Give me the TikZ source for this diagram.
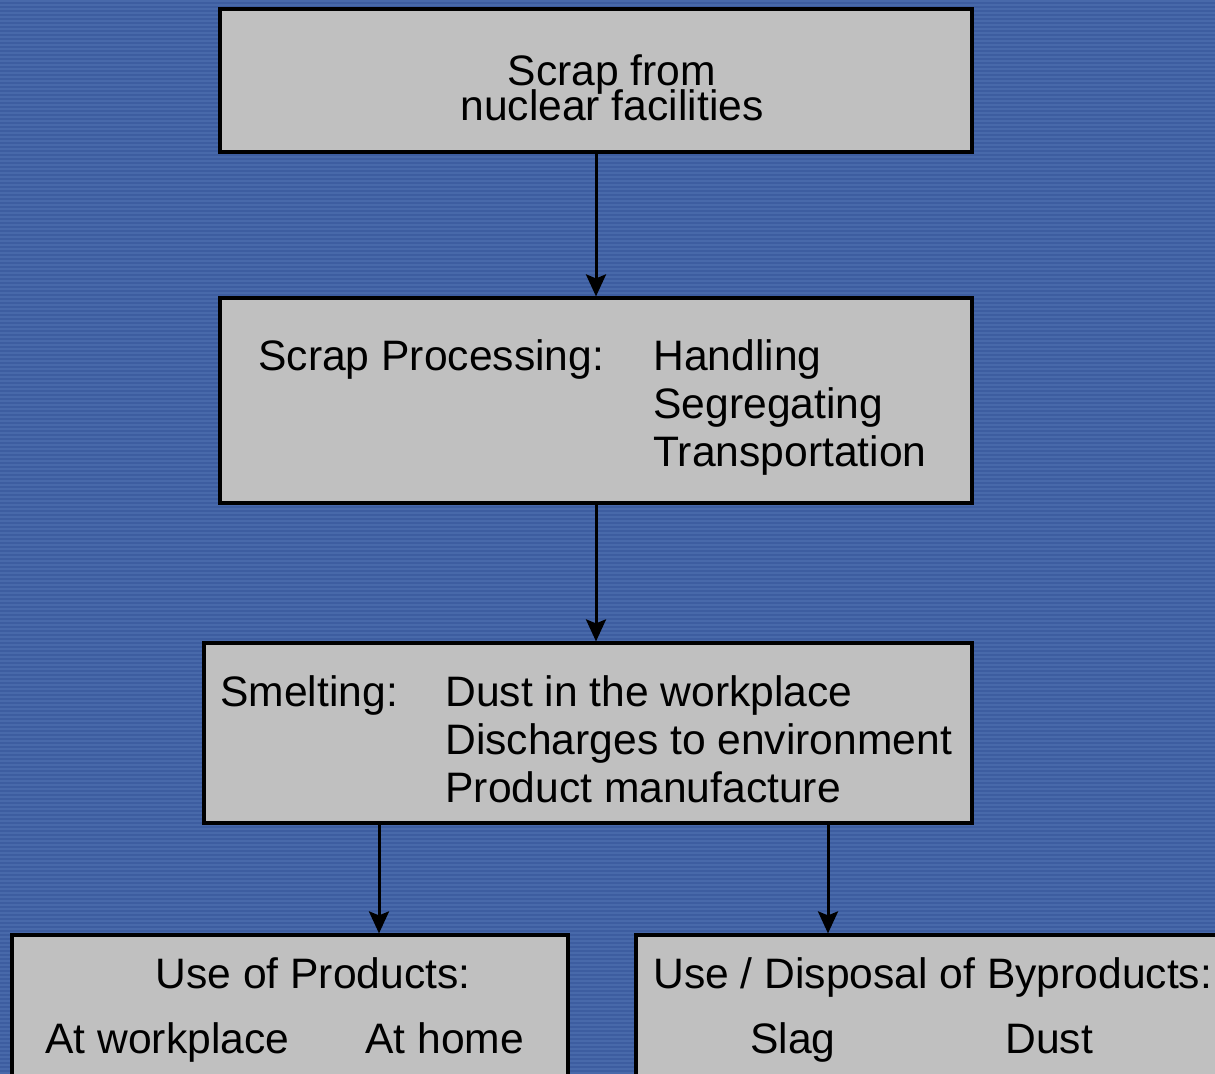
\documentclass[tikz,border=0pt]{standalone}
\usepackage{fontspec}
\setmainfont{Liberation Sans}
\usetikzlibrary{arrows.meta, positioning}
\definecolor{bgblue}{RGB}{61,93,160}
\definecolor{bgstripe}{RGB}{72,105,170}
\definecolor{boxgray}{RGB}{192,192,192}
\tikzset{
    block/.style={rectangle, draw=black, line width=1.6pt, fill=boxgray, inner sep=0pt},
    txt/.style={inner sep=0pt, font=\fontsize{21.3pt}{24pt}\selectfont},
    arrow/.style={line width=1.5pt, -{Stealth[length=11pt, width=10pt, inset=2pt]}}
}
\begin{document}
\begin{tikzpicture}[x=0.5pt, y=-0.5pt]

% Background
\useasboundingbox (0,0) rectangle (1215,1073);
\clip (0,0) rectangle (1215,1073);
\fill[bgblue] (0,0) rectangle (1215,1073);
\foreach \y in {1,5,...,1073}
    \draw[bgstripe, line width=0.8pt] (0,\y) -- (1215,\y);

% Define Blocks
\node[block, minimum width=376pt, minimum height=71.5pt] (scrap) at (596,80.5) {};
\node[block, minimum width=376pt, minimum height=102.5pt] (processing) at (596,400.5) {};
\node[block, minimum width=384pt, minimum height=90pt] (smelting) at (588,733) {};
\node[block, minimum width=278pt, minimum height=82.5pt] (products) at (290,1017.5) {};
\node[block, minimum width=297pt, minimum height=82.5pt] (byproducts) at (933,1017.5) {};

% Scrap from nuclear facilities
\node[txt, anchor=base] (scrapA) at (612,85) {Scrap from};
\node[txt, anchor=base] (scrapB) at (612,120) {nuclear facilities};

% Scrap Processing
\node[txt, anchor=base west] (procLbl) at (258,370) {Scrap Processing:};
\node[txt, anchor=base west] (handling) at (653,370) {Handling};
\node[txt, anchor=base west] (segregating) at (653,418) {Segregating};
\node[txt, anchor=base west] (transport) at (653,466) {Transportation};

% Smelting
\node[txt, anchor=base west] (smeltLbl) at (220,706) {Smelting:};
\node[txt, anchor=base west] (dustwork) at (445,706) {Dust in the workplace};
\node[txt, anchor=base west] (discharge) at (445,754) {Discharges to environment};
\node[txt, anchor=base west] (manufacture) at (445,802) {Product manufacture};

% Use of Products
\node[txt, anchor=base] (prodLbl) at (313,988) {Use of Products:};
\node[txt, anchor=base west] (atwork) at (45,1053) {At workplace};
\node[txt, anchor=base west] (athome) at (365,1053) {At home};

% Use / Disposal of Byproducts
\node[txt, anchor=base west] (bypLbl) at (653,988) {Use / Disposal of Byproducts:};
\node[txt, anchor=base west] (slag) at (750,1053) {Slag};
\node[txt, anchor=base west] (dust) at (1005,1053) {Dust};

% Flow
\coordinate (toProd) at (379,823);
\coordinate (toByp) at (828,823);
\draw[arrow] (scrap.south) -- (processing.north);
\draw[arrow] (processing.south) -- (processing.south |- smelting.north);
\draw[arrow] (toProd) -- (toProd |- products.north);
\draw[arrow] (toByp) -- (toByp |- byproducts.north);

\end{tikzpicture}
\end{document}
